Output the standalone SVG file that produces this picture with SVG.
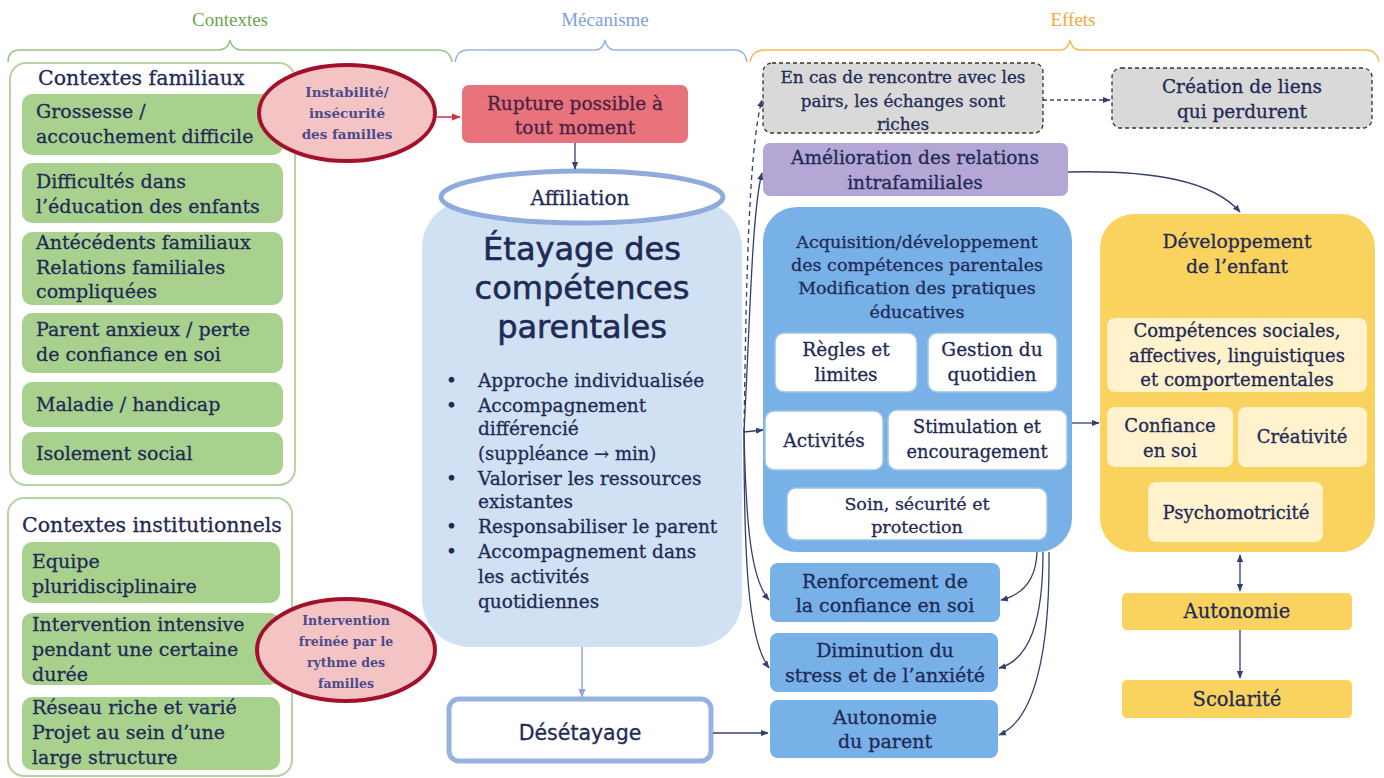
<svg xmlns="http://www.w3.org/2000/svg" width="1384" height="778" viewBox="0 0 1384 778">
<style>
text{font-family:"DejaVu Serif","Liberation Serif",serif;fill:#1f2a55;stroke:#1f2a55;stroke-width:0.3;}
.c{text-anchor:middle;}
.hd{font-family:"Liberation Serif",serif;font-size:19px;text-anchor:middle;stroke:none;}
.g{fill:#a9d18e;}
.lt{font-size:19px;}
.el{fill:#f4c4c4;stroke:#a3102c;stroke-width:4;}
.et{fill:#4b4a8c;stroke:none;text-anchor:middle;font-weight:bold;}
.bl{fill:#78b0e8;}
.wb{fill:#fff;stroke:#9dc3e6;stroke-width:1.5;}
.rt{font-size:18.5px;text-anchor:middle;}
.yb{fill:#fff2cc;}
.ln{fill:none;stroke:#34406e;stroke-width:1.3;}
.sans{font-family:"DejaVu Sans","Noto Sans",sans-serif;}
</style>
<defs>
<marker id="ar" viewBox="0 0 10 10" refX="9" refY="5" markerWidth="6" markerHeight="6" orient="auto"><path d="M0 1 L10 5 L0 9 z" fill="#34406e"/></marker>
<marker id="arr" viewBox="0 0 10 10" refX="9" refY="5" markerWidth="6" markerHeight="6" orient="auto"><path d="M0 1 L10 5 L0 9 z" fill="#d0303a"/></marker>
<marker id="arb" viewBox="0 0 10 10" refX="9" refY="5" markerWidth="6" markerHeight="6" orient="auto"><path d="M0 1 L10 5 L0 9 z" fill="#8faadc"/></marker>
<marker id="ars" viewBox="0 0 10 10" refX="1" refY="5" markerWidth="6" markerHeight="6" orient="auto"><path d="M10 1 L0 5 L10 9 z" fill="#34406e"/></marker>
</defs>
<rect width="1384" height="778" fill="#fff"/>

<g id="headers">
<text class="hd" x="230" y="26" style="fill:#6aa84f">Contextes</text>
<text class="hd" x="605" y="26" style="fill:#7ea1de">Mécanisme</text>
<text class="hd" x="1073" y="26" style="fill:#f2a93b">Effets</text>
<path d="M8 62 Q8 50 20 50 L218 50 Q228 50 230 40 Q232 50 242 50 L438 50 Q450 50 452 62" fill="none" stroke="#9cc284" stroke-width="1.5"/>
<path d="M455 62 Q457 50 468 50 L595 50 Q603 50 605 40 Q607 50 615 50 L735 50 Q745 50 747 62" fill="none" stroke="#9db5e0" stroke-width="1.5"/>
<path d="M750 62 Q752 50 765 50 L1060 50 Q1068 50 1070 40 Q1072 50 1080 50 L1365 50 Q1377 50 1379 62" fill="none" stroke="#f5bd5e" stroke-width="1.5"/>
</g>

<g id="contextes-familiaux">
<rect x="10" y="63" width="285" height="422" rx="16" fill="#fff" stroke="#b7d3a0" stroke-width="2"/>
<text x="38" y="85" style="font-size:20.5px">Contextes familiaux</text>
<rect class="g" x="22" y="94" width="261" height="61" rx="10"/>
<text class="lt" x="36" y="118">Grossesse /</text>
<text class="lt" x="36" y="143">accouchement difficile</text>
<rect class="g" x="22" y="163" width="261" height="60" rx="10"/>
<text class="lt" x="36" y="188">Difficultés dans</text>
<text class="lt" x="36" y="213">l’éducation des enfants</text>
<rect class="g" x="22" y="232" width="261" height="73" rx="10"/>
<text class="lt" x="36" y="249">Antécédents familiaux</text>
<text class="lt" x="36" y="274">Relations familiales</text>
<text class="lt" x="36" y="298">compliquées</text>
<rect class="g" x="22" y="313" width="261" height="60" rx="10"/>
<text class="lt" x="36" y="336">Parent anxieux / perte</text>
<text class="lt" x="36" y="361">de confiance en soi</text>
<rect class="g" x="22" y="382" width="261" height="45" rx="10"/>
<text class="lt" x="36" y="411">Maladie / handicap</text>
<rect class="g" x="22" y="432" width="261" height="43" rx="10"/>
<text class="lt" x="36" y="460">Isolement social</text>
</g>

<g id="ellipse-instabilite">
<ellipse class="el" cx="347" cy="113" rx="88" ry="48"/>
<text class="et" x="347" y="97" style="font-size:13.5px">Instabilité/</text>
<text class="et" x="347" y="118" style="font-size:13.5px">insécurité</text>
<text class="et" x="347" y="139" style="font-size:13.5px">des familles</text>
</g>

<g id="contextes-institutionnels">
<rect x="8" y="498" width="284" height="278" rx="16" fill="#fff" stroke="#b7d3a0" stroke-width="2"/>
<text x="22" y="532" style="font-size:20.5px">Contextes institutionnels</text>
<rect class="g" x="22" y="542" width="258" height="61" rx="10"/>
<text class="lt" x="32" y="568">Equipe</text>
<text class="lt" x="32" y="593">pluridisciplinaire</text>
<rect class="g" x="22" y="613" width="258" height="72" rx="10"/>
<text class="lt" x="32" y="631">Intervention intensive</text>
<text class="lt" x="32" y="656">pendant une certaine</text>
<text class="lt" x="32" y="681">durée</text>
<rect class="g" x="22" y="697" width="258" height="73" rx="10"/>
<text class="lt" x="32" y="714">Réseau riche et varié</text>
<text class="lt" x="32" y="739">Projet au sein d’une</text>
<text class="lt" x="32" y="764">large structure</text>
</g>

<g id="ellipse-intervention">
<ellipse class="el" cx="346" cy="650" rx="89" ry="51"/>
<text class="et" x="346" y="625" style="font-size:12.5px">Intervention</text>
<text class="et" x="346" y="646" style="font-size:12.5px">freinée par le</text>
<text class="et" x="346" y="667" style="font-size:12.5px">rythme des</text>
<text class="et" x="346" y="688" style="font-size:12.5px">familles</text>
</g>

<g id="rupture">
<rect x="462" y="85" width="226" height="58" rx="7" fill="#e8737c"/>
<text class="c" x="575" y="110" style="font-size:18.5px;fill:#4a2143;stroke:#4a2143">Rupture possible à</text>
<text class="c" x="575" y="134" style="font-size:18.5px;fill:#4a2143;stroke:#4a2143">tout moment</text>
</g>

<g id="etayage">
<rect x="422" y="200" width="320" height="447" rx="48" fill="#d0e1f3"/>
<text class="c sans" x="582" y="260" style="font-size:32px;stroke-width:0.6">Étayage des</text>
<text class="c sans" x="582" y="299" style="font-size:32px;stroke-width:0.6">compétences</text>
<text class="c sans" x="582" y="338" style="font-size:32px;stroke-width:0.6">parentales</text>
<g style="font-size:18.5px">
<text x="446" y="387">•</text><text x="478" y="387">Approche individualisée</text>
<text x="446" y="412">•</text><text x="478" y="412">Accompagnement</text>
<text x="478" y="435">différencié</text>
<text x="478" y="460" style="font-size:18px">(suppléance → min)</text>
<text x="446" y="485">•</text><text x="478" y="485">Valoriser les ressources</text>
<text x="478" y="508">existantes</text>
<text x="446" y="533">•</text><text x="478" y="533">Responsabiliser le parent</text>
<text x="446" y="558">•</text><text x="478" y="558">Accompagnement dans</text>
<text x="478" y="583">les activités</text>
<text x="478" y="608">quotidiennes</text>
</g>
</g>

<g id="affiliation">
<ellipse cx="582" cy="197" rx="141" ry="26" fill="#fff" stroke="#8faadc" stroke-width="5"/>
<text class="c" x="580" y="205" style="font-size:20px">Affiliation</text>
</g>

<g id="desetayage">
<rect x="449" y="699" width="262" height="62" rx="10" fill="#fff" stroke="#97b1e0" stroke-width="5"/>
<text class="c sans" x="580" y="740" style="font-size:20.5px">Désétayage</text>
</g>

<g id="rencontre">
<rect x="763" y="63" width="280" height="70" rx="9" fill="#d9d9d9" stroke="#333" stroke-width="1.3" stroke-dasharray="4 3"/>
<text class="rt" x="903" y="83" style="font-size:16.8px">En cas de rencontre avec les</text>
<text class="rt" x="903" y="107" style="font-size:16.8px">pairs, les échanges sont</text>
<text class="rt" x="903" y="130" style="font-size:16.8px">riches</text>
</g>

<g id="creation">
<rect x="1112" y="68" width="260" height="60" rx="9" fill="#d9d9d9" stroke="#333" stroke-width="1.3" stroke-dasharray="4 3"/>
<text class="rt" x="1242" y="93">Création de liens</text>
<text class="rt" x="1242" y="118">qui perdurent</text>
</g>

<g id="amelioration">
<rect x="763" y="143" width="305" height="53" rx="7" fill="#b4a7d6"/>
<text class="rt" x="915" y="164">Amélioration des relations</text>
<text class="rt" x="915" y="189">intrafamiliales</text>
</g>

<g id="acquisition">
<rect class="bl" x="763" y="207" width="309" height="345" rx="34"/>
<g style="font-size:17.5px">
<text class="c" x="917" y="248">Acquisition/développement</text>
<text class="c" x="917" y="271">des compétences parentales</text>
<text class="c" x="917" y="294">Modification des pratiques</text>
<text class="c" x="917" y="318">éducatives</text>
</g>
<rect class="wb" x="775" y="333" width="142" height="59" rx="9"/>
<text class="rt" x="846" y="356">Règles et</text>
<text class="rt" x="846" y="381">limites</text>
<rect class="wb" x="928" y="333" width="129" height="59" rx="9"/>
<text class="rt" x="992" y="356">Gestion du</text>
<text class="rt" x="992" y="381">quotidien</text>
<rect class="wb" x="765" y="411" width="118" height="59" rx="9"/>
<text class="rt" x="824" y="447">Activités</text>
<rect class="wb" x="888" y="410" width="179" height="60" rx="9"/>
<text class="rt" x="977" y="433" style="font-size:17.8px">Stimulation et</text>
<text class="rt" x="977" y="458" style="font-size:17.8px">encouragement</text>
<rect class="wb" x="787" y="488" width="260" height="52" rx="9"/>
<text class="rt" x="917" y="510" style="font-size:17.5px">Soin, sécurité et</text>
<text class="rt" x="917" y="533" style="font-size:17.5px">protection</text>
</g>

<g id="renforcement">
<rect class="bl" x="770" y="563" width="230" height="59" rx="8"/>
<text class="rt" x="885" y="588" style="font-size:19px">Renforcement de</text>
<text class="rt" x="885" y="612" style="font-size:19px">la confiance en soi</text>
</g>
<g id="diminution">
<rect class="bl" x="770" y="633" width="228" height="59" rx="8"/>
<text class="rt" x="885" y="657" style="font-size:19px">Diminution du</text>
<text class="rt" x="885" y="682" style="font-size:19px">stress et de l’anxiété</text>
</g>
<g id="autonomie-parent">
<rect class="bl" x="770" y="700" width="228" height="58" rx="8"/>
<text class="rt" x="885" y="724" style="font-size:19px">Autonomie</text>
<text class="rt" x="885" y="748" style="font-size:19px">du parent</text>
</g>

<g id="developpement">
<rect x="1100" y="214" width="275" height="338" rx="34" fill="#fad35f"/>
<text class="c" x="1237" y="248" style="font-size:18.8px">Développement</text>
<text class="c" x="1237" y="273" style="font-size:18.8px">de l’enfant</text>
<rect class="yb" x="1107" y="318" width="260" height="74" rx="8"/>
<text class="c" x="1237" y="337" style="font-size:18px">Compétences sociales,</text>
<text class="c" x="1237" y="362" style="font-size:18px">affectives, linguistiques</text>
<text class="c" x="1237" y="386" style="font-size:18px">et comportementales</text>
<rect class="yb" x="1107" y="407" width="126" height="60" rx="8"/>
<text class="c" x="1170" y="432" style="font-size:18px">Confiance</text>
<text class="c" x="1170" y="457" style="font-size:18px">en soi</text>
<rect class="yb" x="1238" y="407" width="129" height="60" rx="8"/>
<text class="c" x="1302" y="443" style="font-size:18px">Créativité</text>
<rect class="yb" x="1148" y="482" width="175" height="60" rx="8"/>
<text class="c" x="1236" y="519" style="font-size:18px">Psychomotricité</text>
</g>

<g id="autonomie">
<rect x="1122" y="593" width="230" height="37" rx="5" fill="#fad35f"/>
<text class="c" x="1237" y="618" style="font-size:19.5px">Autonomie</text>
</g>
<g id="scolarite">
<rect x="1122" y="680" width="230" height="38" rx="5" fill="#fad35f"/>
<text class="c" x="1237" y="706" style="font-size:19.5px">Scolarité</text>
</g>

<g id="connectors">
<path d="M437 117 L460 117" fill="none" stroke="#d0303a" stroke-width="1.5" marker-end="url(#arr)"/>
<path class="ln" d="M575 143 L575 169" marker-end="url(#ar)"/>
<path d="M582 647 L582 697" fill="none" stroke="#8faadc" stroke-width="1.5" marker-end="url(#arb)"/>
<path class="ln" d="M713 733 L768 733" marker-end="url(#ar)"/>
<path class="ln" d="M744 432 C746 300 748 150 762 100" stroke-dasharray="5 4" marker-end="url(#ar)"/>
<path class="ln" d="M744 432 C750 320 752 210 762 173" marker-end="url(#ar)"/>
<path class="ln" d="M744 432 L763 430" marker-end="url(#ar)"/>
<path class="ln" d="M744 432 C746 520 750 578 769 600" marker-end="url(#ar)"/>
<path class="ln" d="M744 432 C744 560 748 640 769 668" marker-end="url(#ar)"/>
<path class="ln" d="M1037 552 C1036 580 1022 595 1001 600" marker-end="url(#ar)"/>
<path class="ln" d="M1043 552 C1043 620 1030 660 999 668" marker-end="url(#ar)"/>
<path class="ln" d="M1049 552 C1050 650 1035 720 999 735" marker-end="url(#ar)"/>
<path class="ln" d="M1043 100 L1110 100" stroke-dasharray="4 3" marker-end="url(#ar)"/>
<path class="ln" d="M1068 172 C1150 170 1212 180 1240 212" marker-end="url(#ar)"/>
<path class="ln" d="M1072 423 L1099 423" marker-end="url(#ar)"/>
<path class="ln" d="M1240 555 L1240 591" marker-start="url(#ars)" marker-end="url(#ar)"/>
<path class="ln" d="M1240 630 L1240 678" marker-end="url(#ar)"/>
</g>
</svg>
